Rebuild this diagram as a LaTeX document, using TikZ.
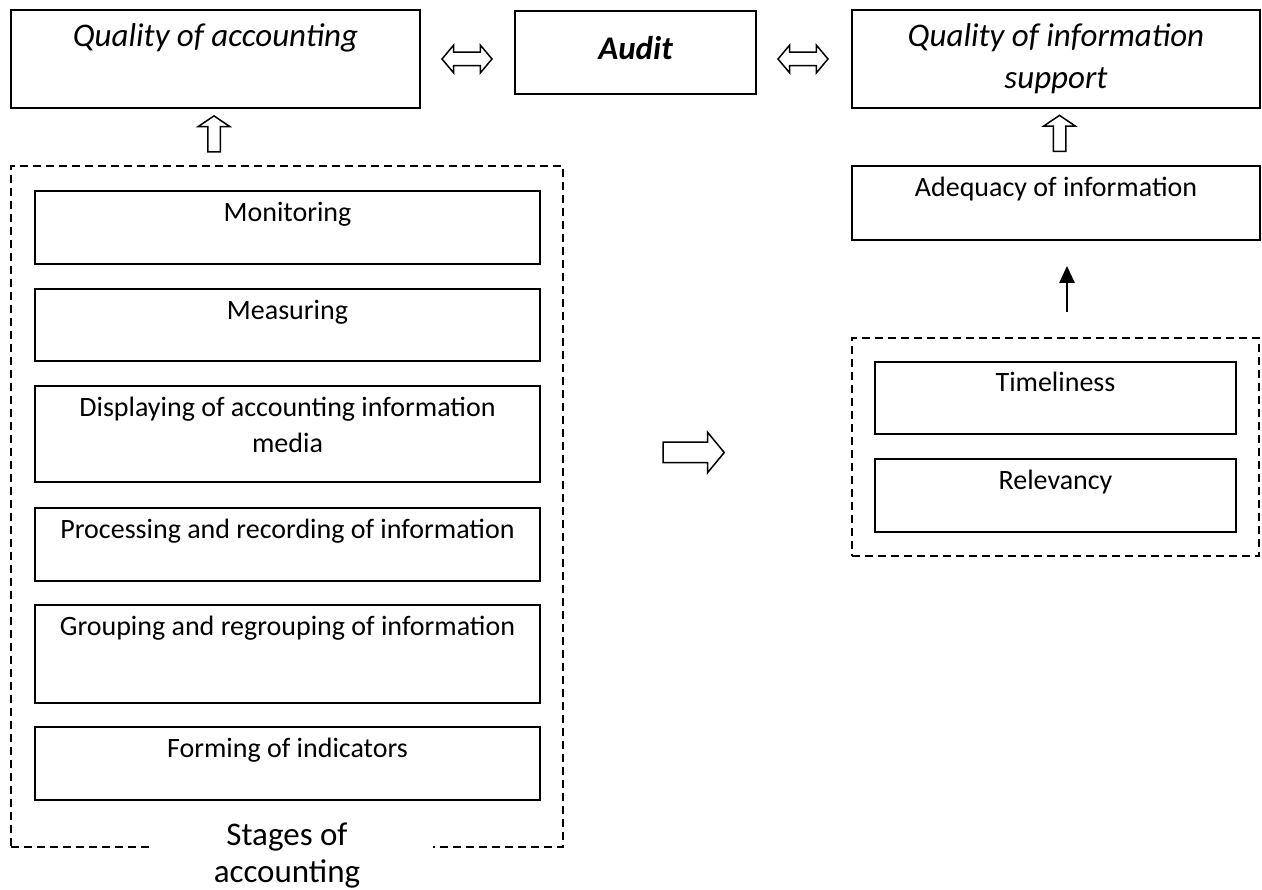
\documentclass[tikz,border=0pt]{standalone}
\usepackage{fontspec}
\setmainfont{Carlito}
\usepackage{tikz}
\usetikzlibrary{arrows.meta,positioning,calc,shapes.arrows}

\begin{document}
\begin{tikzpicture}[
  x=1pt, y=-1pt,
  box/.style={draw, line width=1.8pt, inner sep=0pt},
  grp/.style={draw, line width=1.6pt, dash pattern=on 8pt off 5pt, inner sep=0pt},
  lbl/.style={anchor=base, inner sep=0pt, align=center, font=\fontsize{28}{36}\selectfont},
  head/.style={anchor=base, inner sep=0pt, align=center, font=\fontsize{33}{42}\selectfont\itshape},
  uparr/.style={draw, line width=1.5pt, single arrow, shape border rotate=90, inner ysep=0pt, inner xsep=5.5pt,
    single arrow head extend=9.5pt, single arrow tip angle=112, minimum height=36pt, minimum width=30pt},
  twoarr/.style={draw, line width=1.5pt, double arrow, inner xsep=0pt, inner ysep=6pt,
    double arrow head extend=7pt, double arrow tip angle=100, minimum height=50pt, minimum width=26pt},
  rarr/.style={draw, line width=1.5pt, single arrow, inner xsep=0pt, inner ysep=9.5pt,
    single arrow head extend=10pt, single arrow tip angle=101, minimum height=61pt, minimum width=39pt},
  arr/.style={-{Triangle[length=17pt, width=15pt]}, line width=2.5pt}
]
  \useasboundingbox (0,0) rectangle (1262,890);

  % top row
  \node[box, minimum width=409pt, minimum height=98pt] (qacc) at (215.5,59) {};
  \node[head] (qaccT) at ([yshift=-37pt]qacc.north) {Quality of accounting};
  \node[box, minimum width=241pt, minimum height=83pt] (audit) at (635.5,52.5) {};
  \node[head, font=\fontsize{33}{40}\selectfont\bfseries\itshape] (auditT) at ([yshift=-49pt]audit.north) {Audit};
  \node[box, minimum width=408pt, minimum height=98pt] (qinf) at (1056,59) {};
  \node[head] (qinfT) at ([yshift=-79pt]qinf.north) {Quality of information\\support};

  \node[twoarr] (dl) at (467,59) {};
  \node[twoarr] (dr) at (803,59) {};
  \node[uparr] (upl) at (214,136) {};
  \node[uparr] (upr) at (1059.5,135.5) {};

  % stages of accounting
  \node[grp, minimum width=552pt, minimum height=681pt] (stages) at (287,506.5) {};
  \node[box, minimum width=505pt, minimum height=73pt] (mon) at (287.5,227.5) {};
  \node[lbl] at ([yshift=-31pt]mon.north) {Monitoring};
  \node[box, minimum width=505pt, minimum height=72pt] (meas) at (287.5,325) {};
  \node[lbl] at ([yshift=-31pt]meas.north) {Measuring};
  \node[box, minimum width=505pt, minimum height=96pt] (disp) at (287.5,434) {};
  \node[lbl] at ([yshift=-67pt]disp.north) {Displaying of accounting information\\media};
  \node[box, minimum width=505pt, minimum height=73pt] (proc) at (287.5,544.5) {};
  \node[lbl] at ([yshift=-31pt]proc.north) {Processing and recording of information};
  \node[box, minimum width=505pt, minimum height=98pt] (grpg) at (287.5,654) {};
  \node[lbl] at ([yshift=-31pt]grpg.north) {Grouping and regrouping of information};
  \node[box, minimum width=505pt, minimum height=73pt] (form) at (287.5,763.5) {};
  \node[lbl] at ([yshift=-31pt]form.north) {Forming of indicators};
  \node[fill=white, minimum width=279pt, minimum height=30pt, inner sep=0pt] (gap) at (293.5,847) {};
  \node[head, font=\fontsize{33}{37}\selectfont] (stagesT) at (287,882) {Stages of\\accounting};

  \node[rarr] (toright) at (689.5,452.5) {};

  % information support side
  \node[box, minimum width=408pt, minimum height=74pt] (ade) at (1056,203) {};
  \node[lbl] at ([yshift=-31pt]ade.north) {Adequacy of information};
  \node[grp, minimum width=407pt, minimum height=218pt] (crit) at (1055.5,447) {};
  \node[box, minimum width=361pt, minimum height=72pt] (time) at (1055.5,398) {};
  \node[lbl] at ([yshift=-30pt]time.north) {Timeliness};
  \node[box, minimum width=361pt, minimum height=73pt] (rel) at (1055.5,495.5) {};
  \node[lbl] at ([yshift=-31pt]rel.north) {Relevancy};

  \draw[arr, shorten <=25pt, shorten >=25pt] ([xshift=11.5pt]crit.north) -- ([xshift=11pt]ade.south);
\end{tikzpicture}
\end{document}
